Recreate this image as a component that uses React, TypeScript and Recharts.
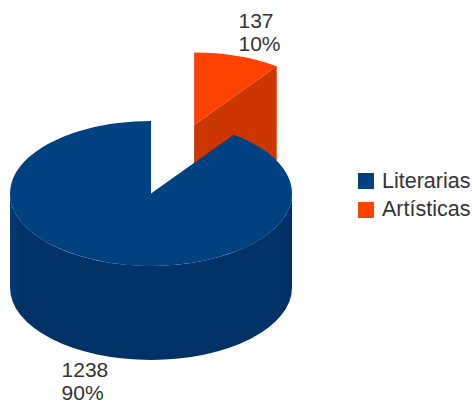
import React from 'react';
import { PieChart, Pie, Cell, Legend } from 'recharts';

// drawn back to front, so the detached slice goes first
const categories = ['Artísticas', 'Literarias'];
const counts = [137, 1238];
const percents = ['10%', '90%'];
const topColors = ['#ff4200', '#004182'];
const sideColors = ['#cc3700', '#003268'];
const legendOrder = ['Literarias', 'Artísticas'];

const data = categories.map((name, i) => ({ name, value: counts[i], percent: percents[i] }));

const WIDTH = 472;
const HEIGHT = 401;
const RADIUS = 141;
const SQUASH = 72.5 / 141;
const DEPTH = 94;
const EXPLODE = 140;
const FONT = '"Liberation Sans", Arial, sans-serif';

const rad = (deg: number) => (deg * Math.PI) / 180;

const offsetFor = (i: number, midAngle: number) => {
  if (categories[i] !== 'Artísticas') return { dx: 0, dy: 0 };
  return {
    dx: EXPLODE * Math.cos(rad(midAngle)),
    dy: -EXPLODE * Math.sin(rad(midAngle)) * SQUASH,
  };
};

const Slice3D = (props: any) => {
  const { cx, cy, startAngle: s, endAngle: e, index } = props;
  const i = categories.indexOf(props.name ?? props.payload?.name);
  const idx = i >= 0 ? i : index;
  const { dx, dy } = offsetFor(idx, (s + e) / 2);
  const ox = cx + dx;
  const oy = cy + dy;
  const rx = RADIUS;
  const ry = RADIUS * SQUASH;
  const px = (a: number) => ox + rx * Math.cos(rad(a));
  const py = (a: number) => oy - ry * Math.sin(rad(a));
  const large = Math.abs(s - e) > 180 ? 1 : 0;

  const top = `M${ox},${oy} L${px(s)},${py(s)} A${rx},${ry} 0 ${large} 1 ${px(e)},${py(e)} Z`;
  const face = (a: number) =>
    `M${ox},${oy} L${px(a)},${py(a)} L${px(a)},${py(a) + DEPTH} L${ox},${oy + DEPTH} Z`;

  // outer wall, only the part facing the viewer (angles 0 to -180)
  const wallFrom = Math.min(s, 0);
  const wallTo = Math.max(e, -180);
  const hasWall = wallFrom > wallTo;
  const wall = `M${px(wallFrom)},${py(wallFrom)} A${rx},${ry} 0 0 1 ${px(wallTo)},${py(wallTo)} L${px(wallTo)},${py(wallTo) + DEPTH} A${rx},${ry} 0 0 0 ${px(wallFrom)},${py(wallFrom) + DEPTH} Z`;

  const showEnd = Math.cos(rad(e)) > 0.001;
  const showStart = Math.cos(rad(s)) < -0.001;

  return (
    <g>
      <defs>
        <linearGradient id={`wall-${idx}`} x1="0" y1="0" x2="1" y2="0">
          <stop offset="0" stopColor="#003d78" />
          <stop offset="0.035" stopColor={sideColors[idx]} />
          <stop offset="0.96" stopColor={sideColors[idx]} />
          <stop offset="1" stopColor="#002f62" />
        </linearGradient>
      </defs>
      {showStart && <path d={face(s)} fill={sideColors[idx]} />}
      {showEnd && <path d={face(e)} fill={sideColors[idx]} />}
      {hasWall && <path d={wall} fill={`url(#wall-${idx})`} />}
      <path d={top} fill={topColors[idx]} />
    </g>
  );
};

const renderLabel = (props: any) => {
  const { cx, cy, midAngle, index } = props;
  const { dx, dy } = offsetFor(index, midAngle);
  const x = cx + dx + RADIUS * Math.cos(rad(midAngle));
  const y = cy + dy - RADIUS * SQUASH * Math.sin(rad(midAngle));
  const above = Math.sin(rad(midAngle)) > 0;
  const tx = above ? x + 1 : x - 46;
  const ty = above ? y - 28 : y + DEPTH + 20.5;
  return (
    <text x={tx} y={ty} fill="#333333" fontSize={21} fontFamily={FONT} textAnchor="start">
      <tspan x={tx}>{counts[index]}</tspan>
      <tspan x={tx} dy={23}>{percents[index]}</tspan>
    </text>
  );
};

const renderLegend = () => (
  <div style={{ fontFamily: FONT, fontSize: 21.5, color: '#333333' }}>
    {legendOrder.map((name) => (
      <div key={name} style={{ display: 'flex', alignItems: 'center', height: 28.5 }}>
        <span
          style={{
            width: 16,
            height: 16,
            marginRight: 8,
            background: topColors[categories.indexOf(name)],
          }}
        />
        <span>{name}</span>
      </div>
    ))}
  </div>
);

export default function App() {
  return (
    <div style={{ position: 'absolute', left: 0, top: 0, width: WIDTH, height: HEIGHT }}>
      <PieChart width={WIDTH} height={HEIGHT} margin={{ top: 0, right: 0, bottom: 0, left: 0 }}>
        <Pie
          data={data}
          dataKey="value"
          nameKey="name"
          cx={151}
          cy={193.5}
          outerRadius={RADIUS}
          startAngle={90}
          endAngle={-270}
          stroke="none"
          shape={Slice3D}
          label={renderLabel}
          labelLine={false}
          isAnimationActive={false}
        >
          {categories.map((name, i) => (
            <Cell key={name} fill={topColors[i]} />
          ))}
        </Pie>
        <Legend
          content={renderLegend}
          wrapperStyle={{ position: 'absolute', left: 358, top: 167, width: 114, bottom: 'auto' }}
        />
      </PieChart>
    </div>
  );
}
